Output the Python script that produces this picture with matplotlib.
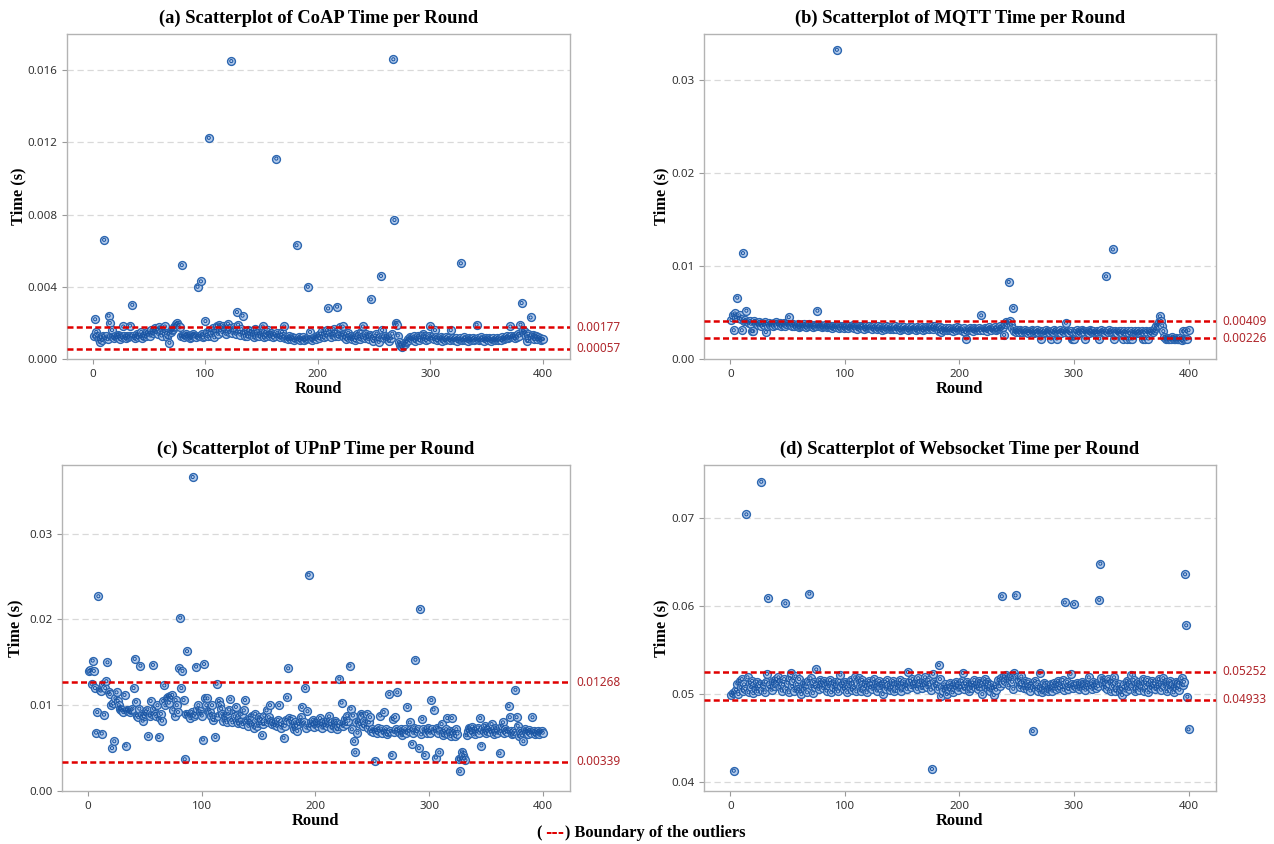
import numpy as np
import matplotlib
matplotlib.use('Agg')
import matplotlib.pyplot as plt
from matplotlib.ticker import FormatStrFormatter

plt.rcParams.update({'font.family': 'Noto Sans', 'axes.linewidth': 1.0})

### times per round, in units of 1e-5 s
coap_raw = [
    125, 220, 150, 130, 110, 95, 120, 105, 130, 660, 115, 125, 110, 240, 200, 130, 160, 120, 115, 130,
    120, 135, 125, 110, 130, 120, 180, 125, 115, 130, 120, 125, 185, 130, 300, 125, 115, 130, 140, 120,
    135, 125, 150, 115, 130, 140, 125, 150, 135, 145, 130, 160, 145, 155, 170, 150, 165, 140, 175, 160,
    130, 170, 155, 180, 145, 120, 140, 90, 150, 160, 165, 175, 185, 195, 200, 190, 175, 130, 520, 125,
    120, 135, 140, 125, 130, 115, 120, 135, 140, 125, 130, 120, 400, 130, 125, 430, 140, 120, 130, 210,
    150, 125, 1225, 160, 130, 145, 170, 120, 155, 185, 140, 190, 160, 175, 150, 185, 165, 140, 180, 195,
    150, 170, 1650, 145, 175, 160, 140, 260, 190, 150, 135, 165, 240, 145, 130, 150, 125, 160, 140, 155,
    135, 150, 120, 165, 140, 130, 155, 125, 145, 135, 180, 120, 150, 130, 140, 160, 125, 145, 135, 120,
    140, 130, 1110, 145, 125, 120, 135, 150, 125, 180, 115, 120, 110, 125, 115, 110, 120, 115, 105, 115,
    630, 110, 120, 105, 115, 110, 120, 105, 110, 115, 400, 120, 150, 110, 105, 115, 120, 110, 125, 130,
    115, 140, 125, 155, 120, 145, 130, 160, 280, 135, 150, 120, 140, 165, 130, 150, 290, 125, 140, 175,
    135, 180, 120, 140, 110, 130, 145, 115, 125, 110, 120, 130, 105, 115, 140, 125, 110, 150, 120, 180,
    130, 115, 140, 120, 110, 135, 330, 125, 100, 115, 130, 140, 110, 95, 120, 460, 160, 125, 115, 130,
    110, 120, 100, 125, 115, 140, 1660, 770, 200, 190, 130, 95, 80, 70, 65, 75, 85, 95, 100, 110,
    105, 120, 115, 110, 125, 100, 115, 110, 130, 105, 120, 115, 140, 110, 125, 105, 120, 110, 130, 180,
    115, 125, 110, 160, 120, 105, 115, 110, 120, 100, 115, 110, 105, 120, 110, 115, 105, 160, 110, 115,
    105, 110, 115, 100, 110, 115, 530, 105, 110, 120, 105, 110, 100, 115, 110, 105, 110, 115, 105, 110,
    190, 115, 105, 110, 120, 105, 110, 100, 115, 110, 105, 115, 110, 100, 110, 115, 105, 110, 115, 105,
    110, 115, 105, 120, 110, 115, 120, 125, 115, 120, 180, 125, 120, 130, 115, 125, 120, 140, 130, 190,
    310, 160, 145, 150, 125, 100, 140, 115, 230, 120, 135, 110, 130, 125, 110, 120, 115, 105, 110, 110,
]

mqtt_raw = [
    420, 470, 310, 490, 450, 660, 440, 470, 430, 310, 1140, 410, 420, 520, 400, 390, 410, 380, 300, 300,
    410, 390, 380, 370, 400, 380, 360, 390, 370, 400, 290, 380, 360, 390, 370, 380, 360, 390, 370, 400,
    380, 370, 390, 360, 380, 370, 390, 360, 380, 400, 450, 380, 370, 360, 380, 350, 370, 360, 380, 340,
    360, 370, 350, 380, 360, 340, 370, 360, 380, 350, 360, 340, 370, 350, 360, 520, 350, 370, 360, 340,
    360, 350, 370, 340, 360, 350, 340, 360, 330, 350, 360, 340, 3330, 350, 330, 360, 340, 350, 330, 360,
    340, 350, 330, 360, 340, 350, 370, 330, 350, 340, 320, 350, 340, 330, 360, 340, 320, 350, 330, 340,
    350, 330, 340, 320, 350, 330, 340, 320, 350, 330, 340, 310, 330, 340, 320, 350, 330, 340, 320, 330,
    340, 320, 330, 350, 320, 340, 330, 310, 340, 320, 330, 340, 320, 330, 310, 340, 320, 330, 340, 320,
    330, 310, 340, 320, 330, 320, 340, 310, 330, 320, 340, 330, 320, 340, 330, 350, 320, 340, 360, 330,
    320, 300, 340, 290, 330, 310, 320, 330, 310, 320, 330, 310, 320, 300, 330, 320, 310, 340, 320, 330,
    310, 320, 300, 330, 290, 220, 310, 320, 330, 310, 320, 300, 330, 320, 310, 320, 330, 310, 470, 320,
    310, 330, 320, 300, 330, 340, 320, 310, 330, 320, 340, 310, 320, 330, 350, 320, 330, 340, 260, 380,
    400, 390, 830, 410, 370, 330, 550, 300, 290, 310, 300, 290, 310, 300, 290, 300, 310, 290, 300, 280,
    300, 290, 310, 300, 280, 290, 300, 310, 290, 300, 220, 290, 300, 280, 290, 310, 300, 290, 280, 220,
    300, 290, 310, 300, 220, 290, 300, 310, 280, 300, 290, 310, 390, 300, 290, 280, 300, 220, 220, 220,
    300, 290, 310, 280, 300, 290, 310, 300, 290, 220, 300, 290, 280, 310, 300, 290, 300, 280, 290, 300,
    290, 220, 300, 310, 290, 300, 280, 890, 300, 290, 310, 290, 300, 1180, 220, 300, 290, 280, 300, 290,
    300, 280, 220, 300, 290, 220, 300, 280, 220, 300, 220, 290, 300, 280, 290, 300, 280, 290, 300, 220,
    290, 220, 300, 290, 220, 300, 280, 300, 290, 310, 330, 360, 370, 400, 460, 410, 360, 300, 240, 220,
    230, 220, 210, 230, 220, 240, 220, 210, 230, 220, 210, 220, 230, 200, 300, 220, 210, 300, 220, 310,
]

upnp_raw = [
    1400, 1410, 1250, 1520, 1400, 1200, 680, 920, 2270, 1180, 1170, 670, 1250, 890, 1200, 1280, 1500, 1150, 1130, 1000,
    500, 1020, 580, 1080, 1150, 1050, 1000, 960, 950, 940, 920, 1120, 530, 950, 930, 940, 920, 950, 960, 1200,
    1540, 1040, 880, 860, 960, 1460, 900, 820, 870, 900, 930, 950, 640, 880, 1050, 900, 1470, 960, 900, 870,
    1000, 630, 850, 900, 820, 1050, 1230, 1000, 1080, 1100, 1030, 1110, 1090, 1120, 950, 880, 1060, 1000, 920, 1430,
    2020, 1200, 1400, 1060, 370, 900, 1630, 900, 880, 850, 920, 3660, 880, 900, 1450, 960, 1000, 930, 900, 880,
    600, 1480, 1080, 1000, 1080, 950, 920, 880, 1000, 830, 860, 630, 1250, 880, 1050, 1000, 960, 900, 820, 880,
    850, 800, 900, 950, 1070, 830, 800, 920, 870, 980, 820, 790, 860, 800, 900, 780, 940, 1060, 820, 800,
    760, 850, 800, 880, 780, 740, 900, 820, 760, 860, 790, 840, 650, 780, 880, 820, 940, 800, 860, 1000,
    820, 780, 810, 770, 800, 760, 830, 1000, 780, 740, 800, 620, 760, 830, 1090, 1430, 850, 800, 840, 760,
    720, 800, 760, 700, 780, 820, 860, 980, 790, 800, 1200, 740, 930, 2520, 760, 800, 780, 830, 750, 790,
    820, 760, 800, 850, 780, 740, 810, 770, 800, 760, 830, 870, 780, 740, 800, 760, 820, 790, 720, 760,
    1310, 780, 1030, 760, 800, 840, 780, 880, 820, 1460, 960, 720, 880, 580, 450, 800, 680, 820, 780, 900,
    880, 760, 820, 780, 900, 740, 800, 860, 700, 720, 690, 350, 710, 680, 730, 700, 880, 720, 680, 920,
    700, 720, 660, 690, 1130, 700, 420, 840, 690, 860, 720, 1150, 700, 680, 720, 650, 700, 690, 720, 680,
    980, 700, 800, 720, 550, 680, 740, 1530, 700, 720, 500, 2120, 660, 840, 720, 420, 700, 680, 740, 700,
    680, 1060, 720, 950, 700, 390, 740, 680, 450, 720, 780, 650, 700, 680, 720, 850, 660, 700, 640, 850,
    700, 680, 640, 720, 670, 370, 230, 380, 460, 420, 380, 360, 650, 700, 740, 720, 680, 750, 700, 660,
    720, 700, 740, 680, 850, 530, 720, 700, 760, 680, 700, 740, 720, 690, 780, 700, 660, 740, 700, 680,
    720, 440, 700, 760, 800, 680, 720, 700, 690, 990, 860, 700, 660, 680, 700, 1180, 860, 760, 640, 700,
    680, 650, 580, 720, 690, 700, 670, 710, 690, 680, 860, 700, 660, 690, 680, 700, 670, 690, 700, 680,
]

websocket_raw = [
    4990, 5010, 4130, 5020, 5050, 5120, 5000, 5150, 5080, 5170, 5040, 5110, 5060, 7040, 5190, 5020, 5130, 5080, 5150, 5010,
    5100, 5060, 5140, 5030, 5090, 5120, 7410, 5050, 5110, 5020, 5140, 5230, 6090, 5080, 5120, 5050, 5150, 5090, 5140, 5170,
    5120, 5190, 5080, 5150, 5040, 5110, 5170, 6030, 5060, 5130, 5020, 5180, 5240, 5090, 5150, 5040, 5200, 5110, 5060, 5170,
    5030, 5000, 5090, 5130, 5060, 5110, 5020, 5150, 6140, 5180, 5090, 5010, 5140, 5080, 5280, 5120, 5060, 5160, 5100, 5130,
    5070, 5150, 5110, 5040, 5130, 5090, 5160, 5020, 5120, 5080, 5140, 5060, 5110, 5030, 5150, 5220, 5090, 5120, 5060, 5140,
    5080, 5020, 5130, 5090, 5160, 5050, 5120, 5070, 5190, 5030, 5140, 5180, 5090, 5040, 5160, 5110, 5060, 5130, 5020, 5100,
    5150, 5080, 5120, 5060, 5170, 5090, 5130, 5040, 5110, 5150, 5070, 5120, 5000, 5090, 5140, 5060, 5160, 5100, 5050, 5120,
    5080, 5150, 5030, 5110, 5070, 5130, 5090, 5160, 5040, 5120, 5080, 5140, 5100, 5060, 5250, 5110, 5150, 5080, 5170, 5120,
    5090, 5140, 5060, 5180, 5110, 5130, 5070, 5150, 5100, 5190, 5120, 5080, 5160, 5110, 5050, 4150, 5230, 5140, 5090, 5120,
    5060, 5330, 5170, 4980, 5080, 5040, 5110, 5060, 5000, 5090, 5050, 5130, 5080, 5020, 5110, 5070, 5140, 5090, 5050, 5120,
    5080, 5150, 5240, 5060, 5120, 5090, 5140, 5030, 5110, 5070, 5130, 5100, 5160, 5080, 5120, 5060, 5150, 5090, 5130, 5000,
    5110, 5170, 5080, 5140, 5060, 5120, 5040, 5100, 5070, 4990, 5080, 5050, 5120, 5160, 5090, 5180, 6110, 5130, 5200, 5150,
    5220, 5180, 5100, 5170, 5210, 5140, 5060, 5240, 6120, 5190, 5110, 5160, 5080, 5200, 5130, 5070, 5150, 5100, 5060, 5140,
    5090, 5040, 5120, 4580, 5080, 5150, 5060, 5110, 5040, 5240, 5090, 5020, 5070, 5130, 5050, 5100, 5030, 5080, 5060, 5120,
    5040, 5090, 5130, 5060, 5110, 5150, 5070, 5120, 5080, 5160, 5050, 6040, 5100, 5140, 5060, 5090, 5230, 5110, 5070, 6020,
    5120, 5080, 5130, 5060, 5110, 5090, 5140, 5070, 5120, 5050, 5100, 5130, 5190, 5080, 5120, 5060, 5140, 5100, 5070, 5130,
    5090, 6070, 6480, 5180, 5110, 5160, 5080, 5140, 5060, 5170, 5120, 5030, 5150, 5090, 5190, 5040, 5130, 5070, 5110, 5020,
    5060, 4990, 5080, 5120, 5040, 5150, 5100, 5060, 5130, 5220, 5090, 5160, 5030, 5110, 5070, 5140, 5050, 5120, 5090, 5170,
    5040, 5130, 5080, 5160, 5020, 5110, 5070, 5150, 5090, 5120, 5060, 5140, 5080, 5170, 5100, 5050, 5130, 5180, 5090, 5140,
    5030, 5120, 5080, 5150, 5060, 5110, 5020, 5090, 5140, 5070, 5130, 5050, 5120, 5180, 5100, 5140, 6360, 5780, 4970, 4600,
]

titles = ['(a) Scatterplot of CoAP Time per Round', '(b) Scatterplot of MQTT Time per Round',
          '(c) Scatterplot of UPnP Time per Round', '(d) Scatterplot of Websocket Time per Round']
bounds = [(0.00177, 0.00057), (0.00409, 0.00226), (0.01268, 0.00339), (0.05252, 0.04933)]
bound_labels = [('0.00177', '0.00057'), ('0.00409', '0.00226'), ('0.01268', '0.00339'), ('0.05252', '0.04933')]
yticks = [[0.0, 0.004, 0.008, 0.012, 0.016], [0.0, 0.01, 0.02, 0.03],
          [0.0, 0.01, 0.02, 0.03], [0.04, 0.05, 0.06, 0.07]]
ylims = [(0, 0.018), (0, 0.035), (0, 0.038), (0.039, 0.076)]
yfmt = ['%.3f', '%.2f', '%.2f', '%.2f']

W, H = 1274, 844
# axes boxes in pixels: left, top, right, bottom
boxes = [(67, 34, 570, 359), (704, 34, 1216, 359), (62, 465, 570, 791), (704, 465, 1216, 791)]
ylab_x = [18, 661, 15, 661]

fig = plt.figure(figsize=(W / 100, H / 100), dpi=100)

series = [coap_raw, mqtt_raw, upnp_raw, websocket_raw]
serif = 'Liberation Serif'
for i, raw in enumerate(series):
    l, t, r, b = boxes[i]
    ax = fig.add_axes([l / W, 1 - b / H, (r - l) / W, (b - t) / H])
    y = np.array(raw) / 1e5
    x = np.arange(1, len(y) + 1)

    ax.set_ylim(*ylims[i])
    ax.set_xlim(-23, 424)
    ax.set_yticks(yticks[i])
    ax.set_xticks([0, 100, 200, 300, 400])
    ax.yaxis.set_major_formatter(FormatStrFormatter(yfmt[i]))
    for yt in yticks[i]:
        if yt > ylims[i][0] + 1e-9:
            ax.axhline(yt, color='#d9d9d9', lw=0.9, ls=(0, (5, 3)), zorder=0)

    ax.scatter(x, y, s=32, facecolors='#b4cbeb', edgecolors='#2c66b0', linewidths=1.0, zorder=3)
    ax.scatter(x, y, s=5, facecolors='none', edgecolors='#1a55a3', linewidths=0.7, zorder=4)

    for bv, bl in zip(bounds[i], bound_labels[i]):
        ax.axhline(bv, color='#e00000', lw=1.8, ls=(0, (2.4, 1.3)), zorder=5)
        ax.text(1.012, bv, bl, transform=ax.get_yaxis_transform(), color='#b0262b',
                fontsize=8.5, va='center', ha='left')

    for sp in ax.spines.values():
        sp.set_color('#b3b3b3')
    ax.tick_params(colors='#9a9a9a', labelcolor='#333333', labelsize=8.3, length=3.5)

    ax.set_title(titles[i], fontsize=13.3, fontweight='bold', family=serif, pad=8)
    ax.set_xlabel('Round', fontsize=11.8, fontweight='bold', family=serif, va='center')
    ax.xaxis.set_label_coords(0.5, -30 / (b - t))
    ax.set_ylabel('Time (s)', fontsize=11.8, fontweight='bold', family=serif, va='center')
    ax.yaxis.set_label_coords(-(l - ylab_x[i]) / (r - l), 0.5)

# legend note at the bottom
ly = 1 - 833 / H
fig.text(536 / W, ly, '(', fontsize=11.8, fontweight='bold', family=serif, va='center', ha='left')
fig.text(545 / W, ly, '---', fontsize=11, fontweight='bold', family='DejaVu Sans', va='center', ha='left',
         color='#e00000')
fig.text(565 / W, ly, ') Boundary of the outliers', fontsize=11.8, fontweight='bold', family=serif,
         va='center', ha='left')

fig.savefig('out.png', dpi=100)
